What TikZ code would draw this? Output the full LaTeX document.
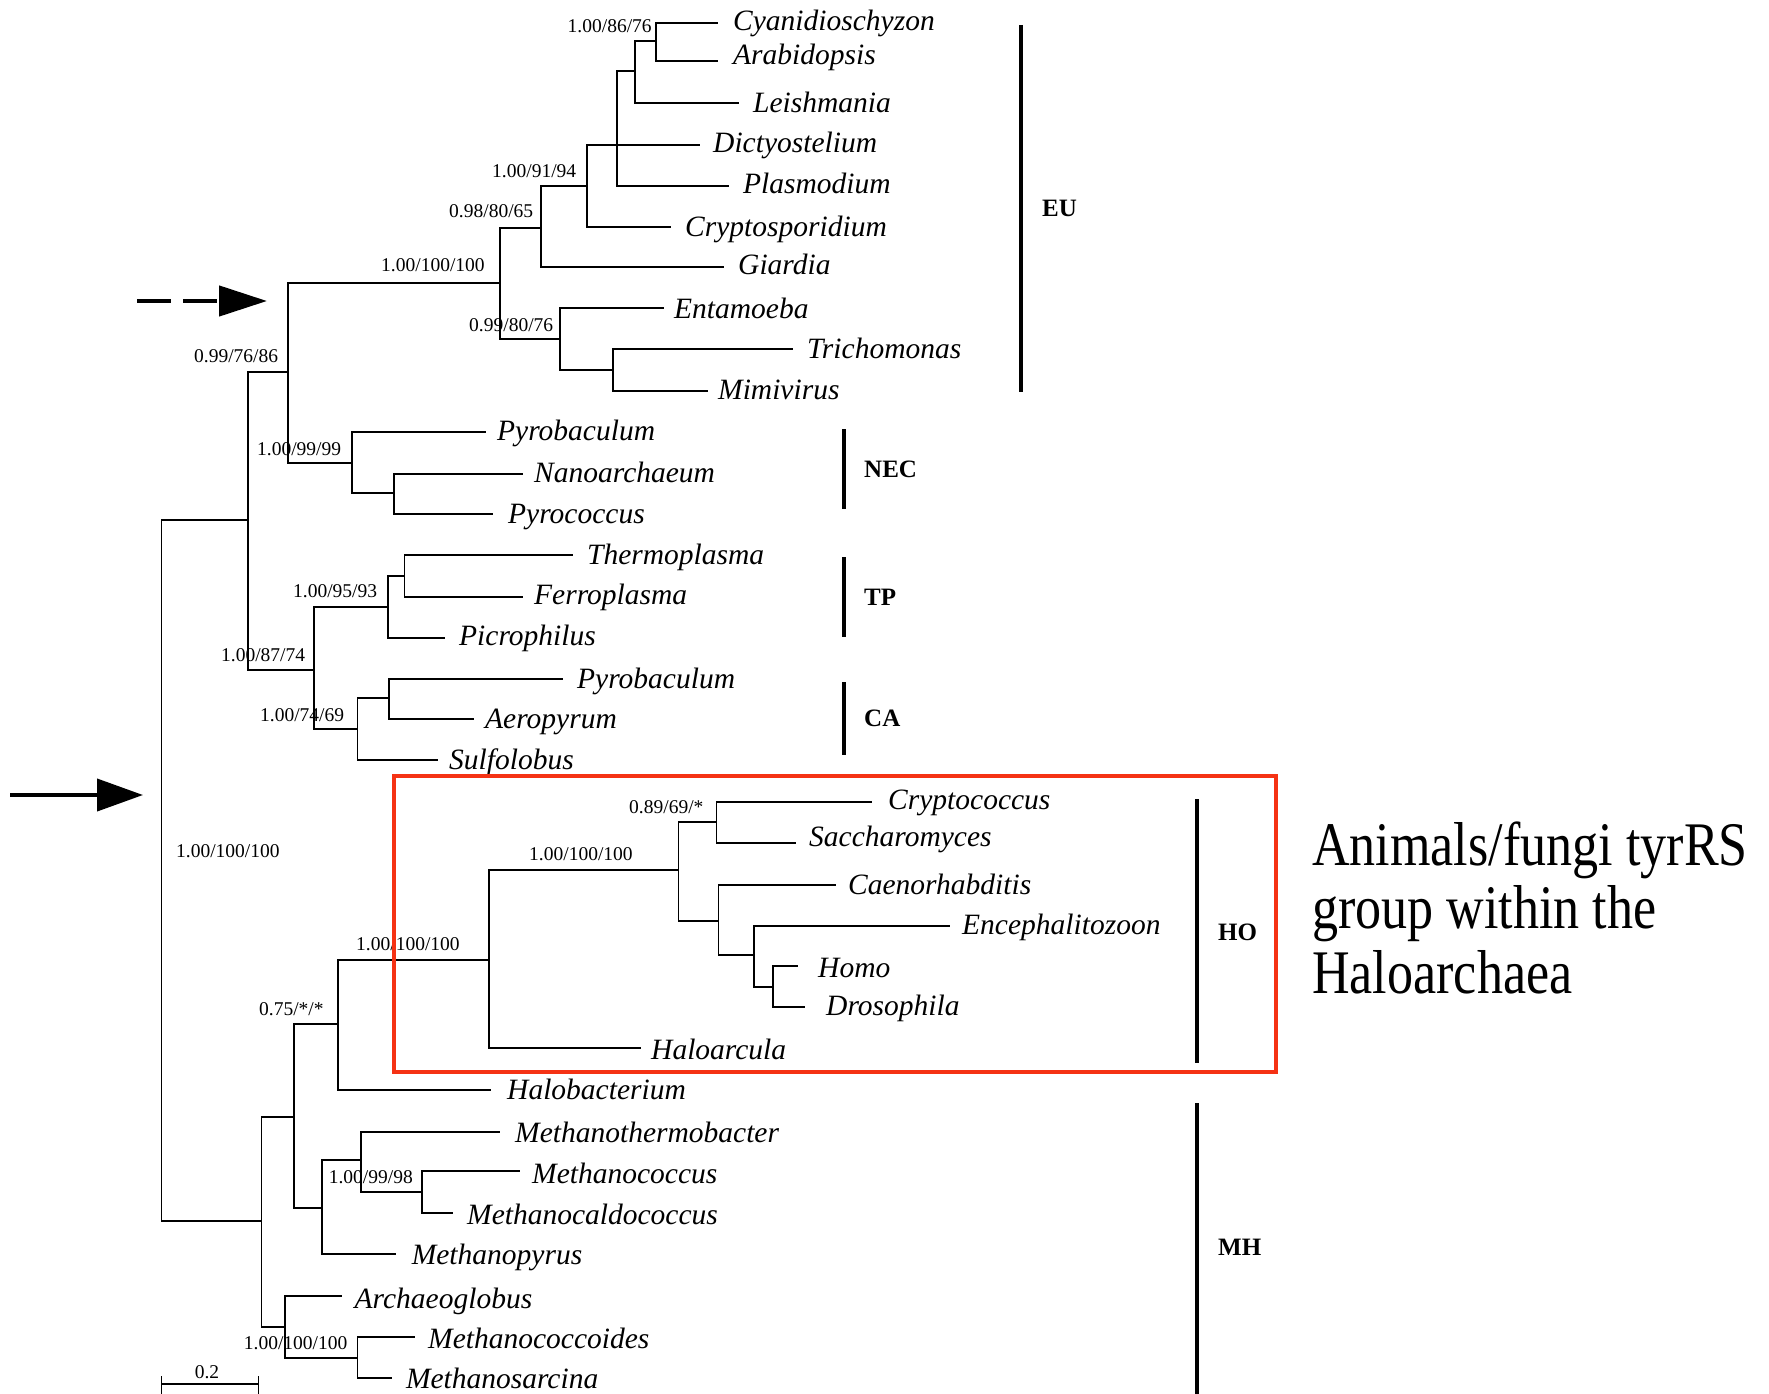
\documentclass[tikz,border=0pt]{standalone}
\usepackage{fontspec}
\setmainfont{Liberation Serif}
\newfontfamily\annfont[FakeStretch=0.84]{Liberation Serif}
\usetikzlibrary{arrows.meta}
\definecolor{boxred}{RGB}{245,50,20}
\begin{document}
\begin{tikzpicture}[x=1pt,y=-1pt,
  branch/.style={line width=1.3pt, line cap=rect},
  leaf/.style={font=\fontsize{29.5}{30}\selectfont\itshape, inner sep=0pt, anchor=base west},
  sup/.style={font=\fontsize{19.5}{20}\selectfont, inner sep=0pt, anchor=base west},
  cladelab/.style={font=\fontsize{25}{26}\selectfont\bfseries, inner sep=0pt, anchor=base west},
  cbar/.style={line width=3.3pt},
  ann/.style={font=\annfont\fontsize{62}{64}\selectfont, inner sep=0pt, anchor=base west},
]
\useasboundingbox (0,0) rectangle (1769,1394);
\fill[white] (0,0) rectangle (1769,1394);

% leaves: name / tip x / y / label x / baseline offset / text
\foreach \nm/\tx/\ty/\lx/\dy/\txt in {
  Cyan/717/23/733/8/Cyanidioschyzon,
  Arab/717/61/733/4/Arabidopsis,
  Leish/738/103/753/10/Leishmania,
  Dict/699/145/713/8/Dictyostelium,
  Plas/728/186/743/7/Plasmodium,
  Cryp/670/227/685/9/Cryptosporidium,
  Giar/723/267/738/7/Giardia,
  Enta/663/308/674/10/Entamoeba,
  Tric/792/349/807/9/Trichomonas,
  Mimi/707/391/718/8/Mimivirus,
  PyrA/485/432/497/8/Pyrobaculum,
  Nano/522/474/534/8/Nanoarchaeum,
  Pyro/492/514/508/9/Pyrococcus,
  Ther/572/555/587/9/Thermoplasma,
  Ferr/522/597/534/7/Ferroplasma,
  Picr/444/638/459/7/Picrophilus,
  PyrB/562/679/577/9/Pyrobaculum,
  Aero/473/719/485/9/Aeropyrum,
  Sulf/437/760/449/9/Sulfolobus,
  Cryc/871/802/888/7/Cryptococcus,
  Sacc/795/843/809/3/Saccharomyces,
  Caen/835/885/848/9/Caenorhabditis,
  Ence/949/926/962/8/Encephalitozoon,
  Homo/797/966/818/11/Homo,
  Dros/804.5/1007/826/8/Drosophila,
  Halc/640/1048/651/11/Haloarcula,
  Halb/490/1090/507/9/Halobacterium,
  Mthe/499.5/1132/515/10/Methanothermobacter,
  Mcoc/519.6/1171/532/12/Methanococcus,
  Mcal/452.7/1213/467/11/Methanocaldococcus,
  Mpyr/395.5/1254/411.6/10/Methanopyrus,
  Arch/341/1296/354.5/12/Archaeoglobus,
  Mcoi/414.7/1337/428/11/Methanococcoides,
  Msar/391/1378/405.8/10/Methanosarcina}{
  \coordinate (\nm) at (\tx,\ty);
  \node[leaf] (l\nm) at (\lx,\ty+\dy) {\txt};
}

% internal nodes: name / x / attachment y
\foreach \nm/\x/\y in {
  a1/656/41, a2/635/71, a3/617/145, a4/587/186, a5/541/228,
  a6/560/339, a7/613/370, a8/500/283, b0/288/372,
  n1/352/463, n2/394/493, t1/404.5/576, t2/388/607,
  c1/389/698, c2/357.6/729, c3/314/670, b1/248/520,
  h1/716.7/822, h2/773/987, h3/754/955, h4/718.5/921,
  h5/678.5/870, h6/489/960, h7/338/1024,
  m1/422/1192, m2/361/1160, m3/322/1208, m4/294/1117,
  m5/357.6/1358, m6/285/1327, m7/261.6/1221, root/161.6/870}{
  \coordinate (\nm) at (\x,\y);
}

% vertical bars of each internal node: parent / first child / last child
\foreach \p/\f/\l in {
  a1/Cyan/Arab, a2/a1/Leish, a3/a2/Plas, a4/a3/Cryp, a5/a4/Giar,
  a6/Enta/a7, a7/Tric/Mimi, a8/a5/a6, b0/a8/n1, n1/PyrA/n2, n2/Nano/Pyro,
  t1/Ther/Ferr, t2/t1/Picr, c1/PyrB/Aero, c2/c1/Sulf, c3/t2/c2, b1/b0/c3,
  h1/Cryc/Sacc, h2/Homo/Dros, h3/Ence/h2, h4/Caen/h3, h5/h1/h4, h6/h5/Halc,
  h7/h6/Halb, m1/Mcoc/Mcal, m2/Mthe/m1, m3/m2/Mpyr, m4/h7/m3, m5/Mcoi/Msar,
  m6/Arch/m5, m7/m4/m6, root/b1/m7}{
  \draw[branch] (\p |- \f) -- (\p |- \l);
}

% horizontal branches: parent / child
\foreach \p/\c in {
  a1/Cyan, a1/Arab, a2/a1, a2/Leish, a3/a2, a3/Dict, a3/Plas, a4/a3, a4/Cryp,
  a5/a4, a5/Giar, a6/Enta, a6/a7, a7/Tric, a7/Mimi, a8/a5, a8/a6, b0/a8, b0/n1,
  n1/PyrA, n1/n2, n2/Nano, n2/Pyro, t1/Ther, t1/Ferr, t2/t1, t2/Picr,
  c1/PyrB, c1/Aero, c2/c1, c2/Sulf, c3/t2, c3/c2, b1/b0, b1/c3,
  h1/Cryc, h1/Sacc, h2/Homo, h2/Dros, h3/Ence, h3/h2, h4/Caen, h4/h3,
  h5/h1, h5/h4, h6/h5, h6/Halc, h7/h6, h7/Halb,
  m1/Mcoc, m1/Mcal, m2/Mthe, m2/m1, m3/m2, m3/Mpyr, m4/h7, m4/m3,
  m5/Mcoi, m5/Msar, m6/Arch, m6/m5, m7/m4, m7/m6, root/b1, root/m7}{
  \draw[branch] (\p |- \c) -- (\c);
}

% support values: name / left x / centre y / text
\foreach \nm/\x/\y/\txt in {
  s1/567.5/26/1.00\slash 86\slash 76,
  s2/492/171/1.00\slash 91\slash 94,
  s3/449/211/0.98\slash 80\slash 65,
  s4/381/265/1.00\slash 100\slash 100,
  s5/469/325/0.99\slash 80\slash 76,
  s6/194/356/0.99\slash 76\slash 86,
  s7/257/449/1.00\slash 99\slash 99,
  s8/293/591/1.00\slash 95\slash 93,
  s9/221/655/1.00\slash 87\slash 74,
  s10/260/715/1.00\slash 74\slash 69,
  s11/629/807/0.89\slash 69\slash *,
  s12/529/854/1.00\slash 100\slash 100,
  s13/356/944/1.00\slash 100\slash 100,
  s14/259/1009/0.75\slash *\slash *,
  s15/176/851/1.00\slash 100\slash 100,
  s16/328.6/1177/1.00\slash 99\slash 98,
  s17/243.7/1343/1.00\slash 100\slash 100}{
  \node[sup] (\nm) at (\x,\y+6.6) {\txt};
}

% clade bars and labels
\draw[cbar] (1021,25) -- (1021,392);
\node[cladelab] (EU) at (1042,216.3) {EU};
\draw[cbar] (844,429) -- (844,509);
\node[cladelab] (NEC) at (864,477.3) {NEC};
\draw[cbar] (844,557) -- (844,637);
\node[cladelab] (TP) at (864,605.3) {TP};
\draw[cbar] (844,682) -- (844,755);
\node[cladelab] (CA) at (864,726.3) {CA};
\draw[cbar] (1197,799) -- (1197,1063);
\node[cladelab] (HO) at (1218,940.3) {HO};
\draw[cbar] (1197,1103) -- (1197,1394);
\node[cladelab] (MH) at (1218,1255.3) {MH};

% red box
\draw[boxred, line width=4pt] (394,776) rectangle (1276,1072);

% arrows
\coordinate (dashS) at (137,301);
\coordinate (dashE) at (267,301);
\draw[line width=4.5pt, dash pattern=on 34pt off 12pt,
  -{Triangle[length=48pt,width=30pt]}] (dashS) -- (dashE);
\coordinate (solS) at (10,795);
\coordinate (solE) at (143,795);
\draw[line width=4pt, -{Triangle[length=46pt,width=32pt]}] (solS) -- (solE);

% scale bar
\coordinate (sbL) at (161.6,1384);
\coordinate (sbR) at (258.5,1384);
\draw[branch] (sbL) -- (sbR);
\draw[branch] (161.6,1377) -- (161.6,1394);
\draw[branch] (258.5,1377) -- (258.5,1394);
\node[sup, anchor=base] (sblab) at (207,1378) {0.2};

% annotation
\node[ann] (ann1) at (1312,865) {Animals/fungi tyrRS};
\node[ann] (ann2) at (1312,928) {group within the};
\node[ann] (ann3) at (1312,993) {Haloarchaea};
\end{tikzpicture}
\end{document}
